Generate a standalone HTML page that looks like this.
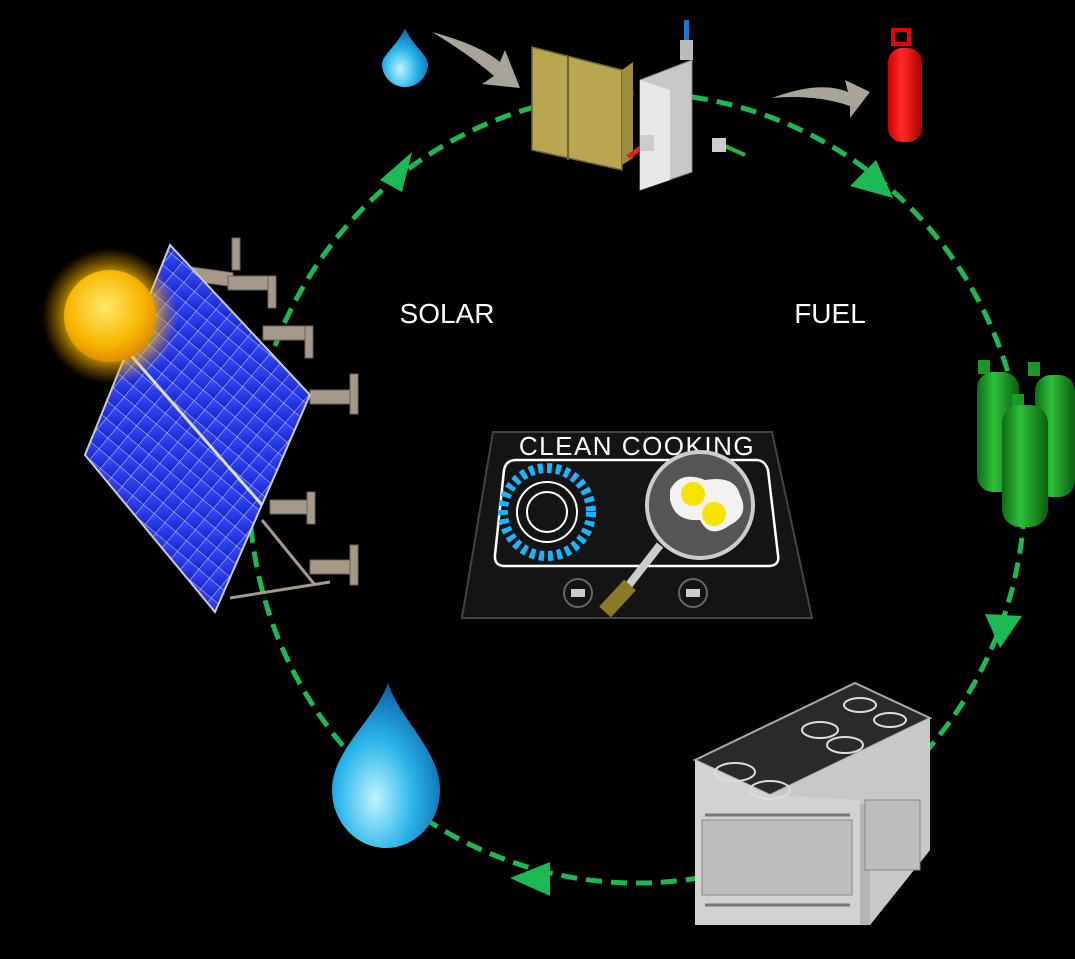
<!DOCTYPE html>
<html><head><meta charset="utf-8"><style>
html,body{margin:0;padding:0;background:#000;width:1075px;height:959px;overflow:hidden}
svg{display:block}
text{font-family:"Liberation Sans",sans-serif}
</style></head><body>
<svg width="1075" height="959" viewBox="0 0 1075 959" xmlns="http://www.w3.org/2000/svg">
<defs>
<radialGradient id="sun" cx="0.45" cy="0.4" r="0.6"><stop offset="0" stop-color="#ffe96a"/><stop offset="0.7" stop-color="#f7b500"/><stop offset="1" stop-color="#e48a00"/></radialGradient>
<radialGradient id="glow" cx="0.5" cy="0.5" r="0.5"><stop offset="0.6" stop-color="#ffd000" stop-opacity="0.8"/><stop offset="1" stop-color="#ff9a00" stop-opacity="0"/></radialGradient>
<radialGradient id="drop" cx="0.4" cy="0.7" r="0.7"><stop offset="0" stop-color="#bff4ff"/><stop offset="0.5" stop-color="#2cb6ea"/><stop offset="1" stop-color="#0a5fa8"/></radialGradient>
<linearGradient id="green" x1="0" x2="1"><stop offset="0" stop-color="#0a6e12"/><stop offset="0.4" stop-color="#2fc03a"/><stop offset="1" stop-color="#0a5e10"/></linearGradient>
<linearGradient id="red" x1="0" x2="1"><stop offset="0" stop-color="#c00"/><stop offset="0.4" stop-color="#ff2a2a"/><stop offset="1" stop-color="#a00"/></linearGradient>
<linearGradient id="pv" x1="0" y1="0" x2="1" y2="1"><stop offset="0" stop-color="#3a4cff"/><stop offset="1" stop-color="#1626c8"/></linearGradient>
<pattern id="grid" width="14" height="14" patternUnits="userSpaceOnUse" patternTransform="rotate(40)"><rect width="14" height="14" fill="url(#pv)"/><path d="M0 0H14M0 0V14" stroke="#c9d0ff" stroke-width="1"/></pattern>
</defs>

<ellipse cx="637" cy="488" rx="388" ry="395" fill="none" stroke="#1db954" stroke-width="5" stroke-dasharray="16 9"/>
<polygon points="380,180 412,152 402,192" fill="#1db954"/>
<polygon points="850,186 876,160 893,198" fill="#1db954"/>
<polygon points="985,614 1022,616 1000,648" fill="#1db954"/>
<polygon points="550,862 550,896 510,878" fill="#1db954"/>

<text x="447" y="323" fill="#fff" font-size="28" text-anchor="middle">SOLAR</text>
<text x="830" y="323" fill="#fff" font-size="28" text-anchor="middle">FUEL</text>

<g fill="#a59a8a" stroke="#6d6458" stroke-width="1">
<rect x="188" y="240" width="45" height="14" transform="skewY(8)"/>
<rect x="228" y="276" width="48" height="14"/>
<rect x="263" y="326" width="48" height="14"/>
<rect x="310" y="390" width="48" height="14"/>
<rect x="270" y="500" width="45" height="14"/>
<rect x="310" y="560" width="48" height="14"/>
<rect x="232" y="238" width="8" height="32"/><rect x="268" y="276" width="8" height="32"/>
<rect x="305" y="326" width="8" height="32"/><rect x="350" y="374" width="8" height="40"/>
<rect x="307" y="492" width="8" height="32"/><rect x="350" y="545" width="8" height="40"/>
</g>
<line x1="230" y1="598" x2="330" y2="582" stroke="#a59a8a" stroke-width="3"/>
<line x1="262" y1="520" x2="315" y2="585" stroke="#a59a8a" stroke-width="3"/>
<polygon points="170,245 310,395 215,612 85,455" fill="url(#grid)" stroke="#ccc" stroke-width="2"/>
<line x1="128" y1="352" x2="262" y2="505" stroke="#ddd" stroke-width="3"/>
<circle cx="110" cy="316" r="68" fill="url(#glow)"/>
<circle cx="110" cy="316" r="46" fill="url(#sun)"/>

<path d="M405 28 C398 45 382 55 382 64 A22 22 0 0 0 428 64 C428 55 412 45 405 28Z" fill="url(#drop)"/>
<path d="M432 32 Q480 45 500 62 L505 50 L520 88 L482 84 L494 76 Q470 55 432 32Z" fill="#a8a49a"/>
<path d="M772 98 Q820 80 848 92 L845 80 L870 92 L850 118 L850 106 Q815 94 772 98Z" fill="#a8a49a"/>

<polygon points="532,47 622,70 622,170 532,150" fill="#b8a650" stroke="#6e6430" stroke-width="1.5"/>
<line x1="568" y1="56" x2="568" y2="160" stroke="#6e6430" stroke-width="2"/>
<polygon points="622,70 633,62 633,158 622,165" fill="#9c8c3e"/>
<polygon points="640,80 692,60 692,172 640,190" fill="#c8c8c8" stroke="#888" stroke-width="1"/>
<polygon points="640,80 670,90 670,180 640,190" fill="#e8e8e8"/>
<rect x="684" y="20" width="5" height="25" fill="#1a78c8"/>
<rect x="680" y="40" width="13" height="20" fill="#bbb"/>
<line x1="628" y1="157" x2="645" y2="145" stroke="#e02020" stroke-width="5"/>
<rect x="640" y="135" width="14" height="16" fill="#ccc"/>
<line x1="725" y1="146" x2="745" y2="155" stroke="#2cb43c" stroke-width="4"/>
<rect x="712" y="138" width="14" height="14" fill="#ccc"/>

<rect x="893" y="30" width="16" height="14" fill="none" stroke="#e00" stroke-width="4"/>
<rect x="888" y="48" width="34" height="94" rx="14" fill="url(#red)"/>

<rect x="1028" y="362" width="12" height="14" fill="#1a9a25"/>
<rect x="978" y="360" width="12" height="14" fill="#1a9a25"/>
<rect x="1035" y="375" width="40" height="122" rx="16" fill="url(#green)"/>
<rect x="977" y="372" width="42" height="120" rx="16" fill="url(#green)"/>
<rect x="1012" y="394" width="12" height="14" fill="#1a9a25"/>
<rect x="1002" y="405" width="46" height="122" rx="18" fill="url(#green)"/>

<path d="M388 683 C375 720 332 750 332 790 A54 58 0 0 0 440 790 C440 750 400 720 388 683Z" fill="url(#drop)"/>

<polygon points="695,760 855,683 930,718 930,850 870,925 695,925" fill="#b5b5b5"/>
<polygon points="695,760 855,683 930,718 770,795" fill="#2a2a2a" stroke="#aaa" stroke-width="2"/>
<polygon points="770,795 930,718 930,850 870,925 870,805" fill="#c8c8c8"/>
<polygon points="695,760 770,795 860,800 860,925 695,925" fill="#d2d2d2"/>
<g fill="none" stroke="#ddd" stroke-width="2">
<ellipse cx="735" cy="772" rx="20" ry="9"/><ellipse cx="770" cy="790" rx="20" ry="9"/>
<ellipse cx="820" cy="730" rx="18" ry="8"/><ellipse cx="845" cy="745" rx="18" ry="8"/>
<ellipse cx="860" cy="705" rx="16" ry="7"/><ellipse cx="890" cy="720" rx="16" ry="7"/>
</g>
<rect x="702" y="820" width="150" height="75" fill="#bdbdbd" stroke="#888"/>
<rect x="865" y="800" width="55" height="70" fill="#bdbdbd" stroke="#888"/>
<line x1="705" y1="815" x2="850" y2="815" stroke="#777" stroke-width="3"/>
<line x1="705" y1="905" x2="850" y2="905" stroke="#777" stroke-width="3"/>

<polygon points="493,432 772,432 812,618 462,618" fill="#141414" stroke="#444" stroke-width="2"/>
<text x="637" y="455" fill="#fff" font-size="26" text-anchor="middle" letter-spacing="1.5">CLEAN COOKING</text>
<path d="M516 460 H756 Q765 460 768 470 L778 555 Q780 566 768 566 H505 Q494 566 495 555 L504 470 Q506 460 516 460Z" fill="none" stroke="#fff" stroke-width="2.5"/>
<circle cx="547" cy="512" r="44" fill="none" stroke="#1ab4ff" stroke-width="10" stroke-dasharray="5 4"/>
<circle cx="547" cy="512" r="30" fill="none" stroke="#fff" stroke-width="2"/>
<circle cx="547" cy="512" r="20" fill="none" stroke="#fff" stroke-width="2"/>
<line x1="660" y1="545" x2="625" y2="590" stroke="#ccc" stroke-width="8"/>
<line x1="630" y1="585" x2="605" y2="612" stroke="#8a7a28" stroke-width="16"/>
<circle cx="700" cy="505" r="53" fill="#555" stroke="#ccc" stroke-width="4"/>
<path d="M670 490 Q680 470 705 480 Q735 475 740 495 Q750 515 730 525 Q710 540 700 520 Q675 522 670 500Z" fill="#f2f2f2"/>
<circle cx="693" cy="494" r="12" fill="#f5e400"/>
<circle cx="714" cy="514" r="12" fill="#f5e400"/>
<circle cx="578" cy="593" r="14" fill="none" stroke="#666" stroke-width="2"/>
<rect x="571" y="589" width="14" height="8" fill="#ccc"/>
<circle cx="693" cy="593" r="14" fill="none" stroke="#666" stroke-width="2"/>
<rect x="686" y="589" width="14" height="8" fill="#ccc"/>
</svg>
</body></html>
